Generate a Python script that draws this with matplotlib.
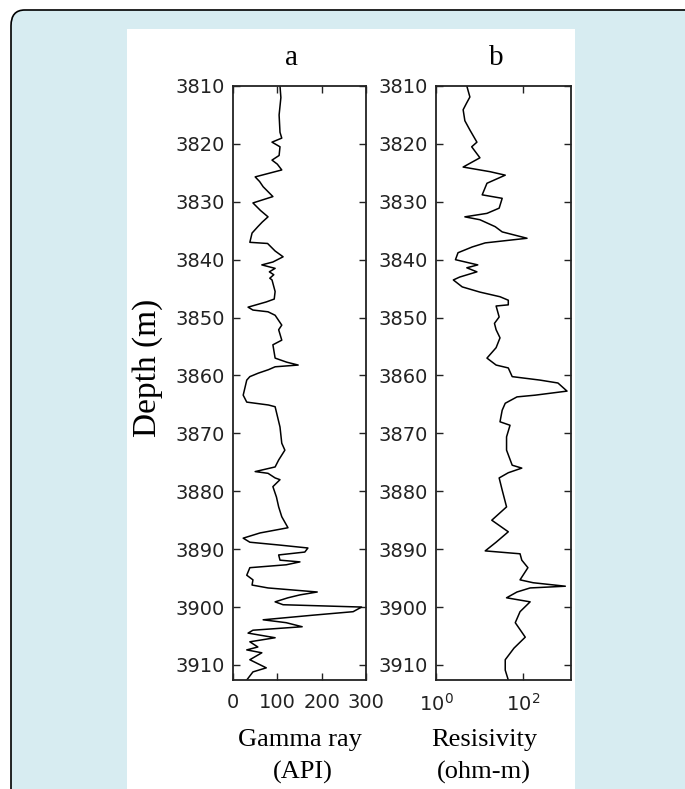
import matplotlib.pyplot as plt
from matplotlib.patches import FancyBboxPatch, Rectangle

# gamma ray log (API) against depth (m)
gr_depth = [3810.0, 3812.0, 3815.0, 3818.0, 3819.0, 3819.7, 3820.5, 3822.0, 3822.8, 3823.5,
            3824.5, 3825.7, 3826.5, 3827.4, 3829.1, 3830.2, 3831.5, 3832.6, 3833.5, 3834.3,
            3835.4, 3837.0, 3837.2, 3838.5, 3839.5, 3840.4, 3840.9, 3841.5, 3842.1, 3842.6,
            3843.2, 3843.5, 3845.5, 3846.8, 3847.3, 3848.2, 3848.7, 3849.0, 3849.6, 3851.3,
            3852.1, 3853.9, 3854.7, 3857.0, 3857.7, 3858.2, 3858.5, 3859.0, 3859.6, 3860.2,
            3860.8, 3863.4, 3864.6, 3865.1, 3865.4, 3868.9, 3871.7, 3872.9, 3874.6, 3875.8,
            3876.6, 3876.9, 3877.7, 3878.0, 3879.2, 3881.0, 3882.7, 3884.4, 3886.3, 3887.2,
            3888.1, 3888.8, 3889.3, 3889.8, 3890.5, 3891.0, 3891.9, 3892.2, 3892.7, 3893.2,
            3894.5, 3895.3, 3896.2, 3896.7, 3897.4, 3897.9, 3898.4, 3899.1, 3899.6, 3900.0,
            3900.8, 3901.4, 3902.2, 3902.7, 3903.4, 3904.0, 3904.5, 3905.3, 3906.0, 3906.9,
            3907.4, 3907.9, 3909.1, 3910.5, 3911.2, 3912.6]
gr_api = [106, 108, 104, 106, 110, 88, 106, 104, 88, 100,
          110, 50, 60, 68, 90, 45, 62, 79, 66, 56,
          43, 38, 78, 95, 113, 90, 65, 95, 82, 92,
          83, 88, 95, 93, 75, 34, 45, 79, 95, 110,
          103, 110, 90, 95, 121, 147, 95, 80, 57, 38,
          31, 23, 31, 80, 95, 106, 110, 117, 103, 95,
          50, 79, 95, 106, 90, 98, 103, 110, 124, 61,
          23, 38, 106, 169, 162, 103, 106, 151, 120, 38,
          31, 45, 43, 79, 190, 151, 124, 95, 113, 290,
          271, 181, 68, 120, 156, 45, 34, 95, 38, 56,
          31, 65, 38, 75, 45, 31]

# deep resistivity log (ohm-m) against depth (m)
res_depth = [3810.0, 3811.9, 3813.0, 3814.1, 3816.0, 3817.6, 3819.7, 3820.5, 3822.4, 3824.0,
             3824.8, 3825.4, 3826.8, 3828.8, 3829.4, 3831.1, 3832.0, 3832.6, 3833.1, 3834.3,
             3835.2, 3836.3, 3837.1, 3837.8, 3838.8, 3840.0, 3840.9, 3841.4, 3842.1, 3843.0,
             3843.5, 3844.7, 3845.6, 3846.4, 3847.0, 3847.8, 3848.0, 3849.9, 3851.0, 3852.1,
             3853.5, 3855.2, 3857.0, 3858.2, 3858.7, 3860.2, 3860.8, 3861.3, 3862.7, 3863.4,
             3863.7, 3864.8, 3866.0, 3868.0, 3868.6, 3870.6, 3872.9, 3875.5, 3876.0, 3876.8,
             3877.7, 3879.8, 3882.7, 3885.0, 3887.0, 3888.8, 3890.3, 3890.8, 3891.9, 3893.2,
             3895.3, 3895.8, 3896.4, 3896.7, 3897.4, 3898.4, 3899.1, 3900.8, 3902.7, 3905.2,
             3907.1, 3909.1, 3910.9, 3912.6]
res_ohmm = [5.1, 6.0, 5.0, 4.2, 4.6, 6.0, 8.7, 6.6, 10.2, 4.2,
            17.4, 38.9, 14.8, 11.5, 33.1, 28.2, 14.8, 4.6, 10.2, 22.9,
            33.1, 123, 13.5, 6.8, 3.2, 2.8, 9.1, 5.1, 8.7, 3.5,
            2.5, 4.0, 10.2, 29.5, 45.7, 45.7, 24.0, 28.2, 22.0, 24.0,
            29.5, 24.0, 14.8, 24.0, 45.7, 56.2, 245, 631, 1020, 190,
            72.4, 38.9, 33.1, 29.5, 50.1, 41.7, 41.7, 56.2, 93.3, 45.7,
            28.2, 33.1, 41.7, 19.1, 45.7, 24.0, 13.5, 85.1, 93.3, 129,
            85.1, 170, 933, 145, 72.4, 41.7, 145, 85.1, 66.1, 112,
            61.7, 38.9, 38.9, 45.7]

depth_ticks = list(range(3810, 3911, 10))
gr_ticks = [0, 100, 200, 300]
res_ticks = [1, 100]

W, H = 685, 789
fig = plt.figure(figsize=(W / 100, H / 100), dpi=100)
fig.patch.set_facecolor('white')

# light blue card with rounded corner, white plot area on top
card = FancyBboxPatch((11 / W, -0.1), 1.2, 1 - 10 / H + 0.1,
                      boxstyle='round,pad=0,rounding_size=0.02',
                      transform=fig.transFigure, facecolor='#d7ecf1',
                      edgecolor='black', linewidth=1.2, zorder=0)
fig.patches.append(card)
fig.patches.append(Rectangle((127 / W, 0), (575 - 127) / W, 1 - 29 / H,
                             transform=fig.transFigure, facecolor='white',
                             edgecolor='none', zorder=1))

serif = 'Liberation Serif'
tick_font = 'DejaVu Sans'

ax_a = fig.add_axes([233 / W, 1 - 680 / H, 133 / W, 594 / H])
ax_b = fig.add_axes([436 / W, 1 - 680 / H, 135 / W, 594 / H])

ax_a.plot(gr_api, gr_depth, color='black', lw=1.1)
ax_a.set_xlim(0, 300)
ax_a.set_xticks(gr_ticks)

ax_b.plot(res_ohmm, res_depth, color='black', lw=1.1)
ax_b.set_xscale('log')
ax_b.set_xlim(1, 10 ** 3.1)
ax_b.set_xticks(res_ticks)
ax_b.minorticks_off()

for ax in (ax_a, ax_b):
    ax.set_ylim(3912.6, 3810)
    ax.set_yticks(depth_ticks)
    ax.tick_params(direction='in', length=5, width=1, top=True, right=True,
                   labelsize=14, colors='#222222')
    ax.tick_params(axis='y', pad=6)
    ax.tick_params(axis='x', pad=9)
    for lab in ax.get_xticklabels() + ax.get_yticklabels():
        lab.set_family(tick_font)
    for sp in ax.spines.values():
        sp.set_linewidth(1.3)
        sp.set_color('#222222')
    ax.set_zorder(2)

ax_a.set_title('a', family=serif, fontsize=21, pad=15, x=0.44)
ax_b.set_title('b', family=serif, fontsize=21, pad=15, x=0.45)

fig.text(148 / W, 1 - 368 / H, 'Depth (m)', family=serif, fontsize=24,
         rotation=90, ha='center', va='center')
fig.text(300 / W, 1 - 740 / H, 'Gamma ray', family=serif, fontsize=19,
         ha='center', va='center')
fig.text(303 / W, 1 - 772 / H, '(API)', family=serif, fontsize=19,
         ha='center', va='center')
fig.text(484 / W, 1 - 740 / H, 'Resisivity', family=serif, fontsize=19,
         ha='center', va='center')
fig.text(484 / W, 1 - 772 / H, '(ohm-m)', family=serif, fontsize=19,
         ha='center', va='center')

fig.savefig('out.png', dpi=100)
